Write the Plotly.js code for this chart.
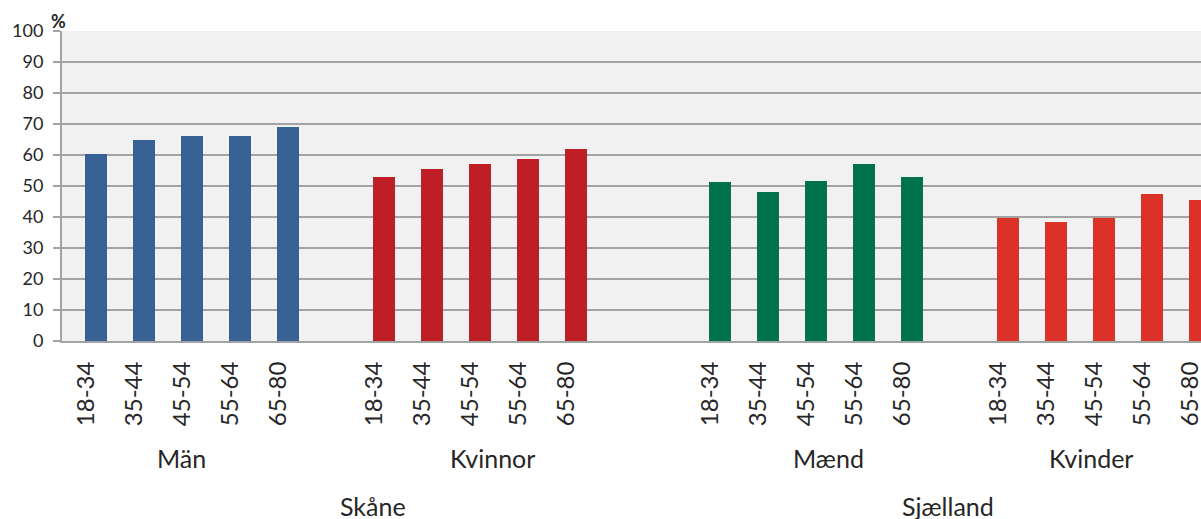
<!DOCTYPE html>
<html>
<head>
<meta charset="utf-8">
<script src="https://cdn.plot.ly/plotly-3.0.1.min.js"></script>
<style>html,body{margin:0;padding:0;background:#fff;overflow:hidden}#chart{width:1201px;height:519px}</style>
</head>
<body>
<div id="chart"></div>
<script>
// ---- data ----
var ages = ['18-34', '35-44', '45-54', '55-64', '65-80'];
var regions = ['Skåne', 'Sjælland'];
var sexes = [['Män', 'Kvinnor'], ['Mænd', 'Kvinder']];
var skaneMen = [60.3, 64.8, 66.2, 66.1, 69.1];
var skaneWomen = [52.9, 55.5, 57.1, 58.7, 61.9];
var sjaellandMen = [51.3, 48.1, 51.6, 57.1, 52.9];
var sjaellandWomen = [39.8, 38.4, 39.8, 47.4, 45.5];
var yTicks = [0, 10, 20, 30, 40, 50, 60, 70, 80, 90, 100];

var series = [[skaneMen, skaneWomen], [sjaellandMen, sjaellandWomen]];
var colors = [['#386196', '#be1e26'], ['#00734a', '#dc3127']];

// slot layout: 5 bars per sex group, 1 blank slot between sexes, 2 between regions
function slot(r, s, j) { return r * 13 + s * 6 + j; }

var traces = [];
var tickvals = [], ticktext = [];
for (var r = 0; r < 2; r++) {
  for (var s = 0; s < 2; s++) {
    var xs = ages.map(function (a, j) { return slot(r, s, j); });
    traces.push({
      type: 'bar',
      x: xs,
      y: series[r][s],
      width: 0.44,
      marker: {color: colors[r][s]},
      name: sexes[r][s],
      hoverinfo: 'y'
    });
    xs.forEach(function (x, j) { tickvals.push(x - 0.2); ticktext.push(ages[j]); });
  }
}

var fontFam = 'Lato, "Open Sans", sans-serif';
var txtCol = '#262626';
var annotations = [
  {text: '<b>%</b>', xref: 'paper', yref: 'paper', x: -0.003, y: 0.99, xanchor: 'center', yanchor: 'bottom', showarrow: false, font: {size: 18, color: txtCol, family: fontFam}},
  {text: sexes[0][0], xref: 'x', yref: 'paper', x: 1.78, y: -0.377, xanchor: 'center', yanchor: 'middle', showarrow: false, font: {size: 25, color: txtCol, family: fontFam}},
  {text: sexes[0][1], xref: 'x', yref: 'paper', x: 8.27, y: -0.377, xanchor: 'center', yanchor: 'middle', showarrow: false, font: {size: 25, color: txtCol, family: fontFam}},
  {text: sexes[1][0], xref: 'x', yref: 'paper', x: 15.25, y: -0.377, xanchor: 'center', yanchor: 'middle', showarrow: false, font: {size: 25, color: txtCol, family: fontFam}},
  {text: sexes[1][1], xref: 'x', yref: 'paper', x: 20.73, y: -0.377, xanchor: 'center', yanchor: 'middle', showarrow: false, font: {size: 25, color: txtCol, family: fontFam}},
  {text: regions[0], xref: 'x', yref: 'paper', x: 5.77, y: -0.533, xanchor: 'center', yanchor: 'middle', showarrow: false, font: {size: 25, color: txtCol, family: fontFam}},
  {text: regions[1], xref: 'x', yref: 'paper', x: 17.75, y: -0.533, xanchor: 'center', yanchor: 'middle', showarrow: false, font: {size: 25, color: txtCol, family: fontFam}}
];

var layout = {
  width: 1201,
  height: 519,
  margin: {l: 62, r: 0, t: 31, b: 178},
  paper_bgcolor: '#ffffff',
  plot_bgcolor: '#f1f1f1',
  showlegend: false,
  bargap: 0,
  font: {family: fontFam, color: txtCol},
  xaxis: {
    range: [-0.708, 23.02],
    tickmode: 'array',
    tickvals: tickvals,
    ticktext: ticktext,
    tickangle: -90,
    ticks: '',
    showgrid: false,
    zeroline: false,
    showline: true,
    linecolor: '#a3a3a3',
    linewidth: 2,
    tickfont: {size: 24, color: txtCol, family: fontFam},
    ticklabelstandoff: 9,
    ticklabeloverflow: 'allow'
  },
  yaxis: {
    range: [0, 100],
    tickmode: 'array',
    tickvals: yTicks,
    ticks: 'outside',
    ticklen: 7,
    tickwidth: 2,
    tickcolor: '#a3a3a3',
    showgrid: true,
    gridcolor: '#a3a3a3',
    gridwidth: 2,
    zeroline: false,
    showline: true,
    linecolor: '#a3a3a3',
    linewidth: 2,
    tickfont: {size: 18, color: txtCol, family: fontFam},
    ticklabelstandoff: 6
  },
  annotations: annotations
};

Plotly.newPlot('chart', traces, layout, {displayModeBar: false, staticPlot: true});
</script>
</body>
</html>
